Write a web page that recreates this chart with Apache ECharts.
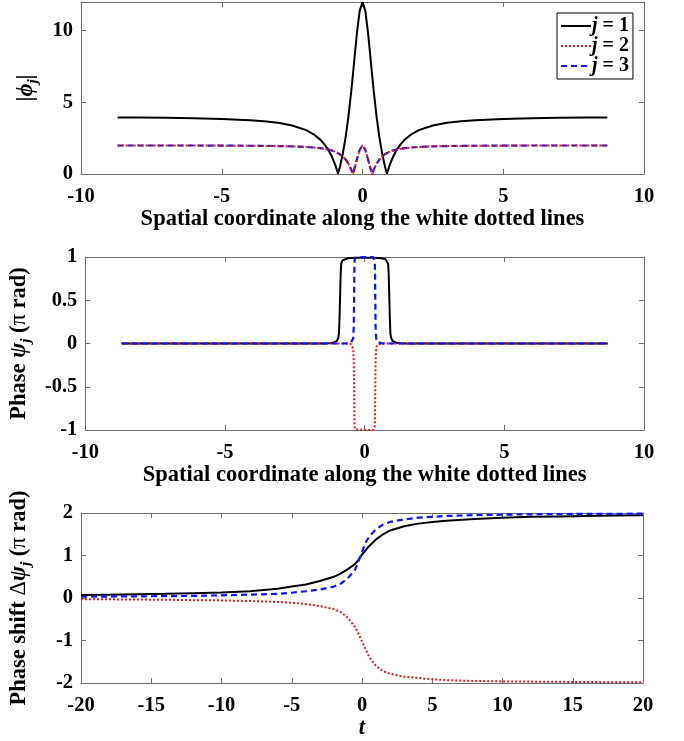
<!DOCTYPE html>
<html>
<head>
<meta charset="utf-8">
<script src="https://cdn.jsdelivr.net/npm/echarts@6/dist/echarts.min.js"></script>
<style>
  html, body { margin: 0; padding: 0; background: #fff; }
  #chart { width: 684px; height: 741px; }
</style>
</head>
<body>
<div id="chart"></div>
<script>
// ---- Panel 1: amplitude |phi_j| along the spatial coordinate ----
const ampX = [-8.7, -8, -7, -6, -5, -4, -3.5, -3, -2.5, -2, -1.75, -1.5, -1.35, -1.2, -1.1, -1, -0.95, -0.87, -0.8, -0.7, -0.6, -0.5, -0.4, -0.34, -0.3, -0.2, -0.1,
  0,
  0.1, 0.2, 0.3, 0.34, 0.4, 0.5, 0.6, 0.7, 0.8, 0.87, 0.95, 1, 1.1, 1.2, 1.35, 1.5, 1.75, 2, 2.5, 3, 3.5, 4, 5, 6, 7, 8, 8.7];
const ampJ1 = [3.95, 3.94, 3.92, 3.89, 3.84, 3.75, 3.68, 3.57, 3.38, 3.06, 2.79, 2.4, 2.07, 1.63, 1.26, 0.8, 0.53, 0.02, 0.5, 1.41, 2.56, 4, 5.76, 6.94, 7.76, 9.79, 11.38,
  12,
  11.38, 9.79, 7.76, 6.94, 5.76, 4, 2.56, 1.41, 0.5, 0.02, 0.53, 0.8, 1.26, 1.63, 2.07, 2.4, 2.79, 3.06, 3.38, 3.57, 3.68, 3.75, 3.84, 3.89, 3.92, 3.94, 3.95];
const ampJ2 = [1.99, 1.99, 1.99, 1.99, 1.98, 1.97, 1.96, 1.95, 1.93, 1.89, 1.85, 1.8, 1.76, 1.7, 1.65, 1.58, 1.54, 1.46, 1.38, 1.23, 1.01, 0.72, 0.31, 0, 0.27, 0.99, 1.69,
  2,
  1.69, 0.99, 0.27, 0, 0.31, 0.72, 1.01, 1.23, 1.38, 1.46, 1.54, 1.58, 1.65, 1.7, 1.76, 1.8, 1.85, 1.89, 1.93, 1.95, 1.96, 1.97, 1.98, 1.99, 1.99, 1.99, 1.99];
const ampJ3 = [1.99, 1.99, 1.99, 1.99, 1.98, 1.97, 1.96, 1.95, 1.93, 1.89, 1.85, 1.8, 1.76, 1.7, 1.65, 1.58, 1.54, 1.46, 1.38, 1.23, 1.01, 0.72, 0.31, 0, 0.27, 0.99, 1.69,
  2,
  1.69, 0.99, 0.27, 0, 0.31, 0.72, 1.01, 1.23, 1.38, 1.46, 1.54, 1.58, 1.65, 1.7, 1.76, 1.8, 1.85, 1.89, 1.93, 1.95, 1.96, 1.97, 1.98, 1.99, 1.99, 1.99, 1.99];

// ---- Panel 2: phase psi_j (in units of pi) ----
const phaseX1 = [-8.7, -4, -2, -1.5, -1.3, -1.2, -1.1, -1.0, -0.95, -0.92, -0.9, -0.88, -0.86, -0.84, -0.8, -0.75, -0.6, -0.3,
  0,
  0.3, 0.6, 0.75, 0.8, 0.84, 0.86, 0.88, 0.9, 0.92, 0.95, 1.0, 1.1, 1.2, 1.3, 1.5, 2, 4, 8.7];
const phaseJ1 = [0, 0, 0, 0.001, 0.003, 0.006, 0.012, 0.03, 0.06, 0.12, 0.3, 0.55, 0.8, 0.92, 0.96, 0.975, 0.985, 0.99,
  0.99,
  0.99, 0.985, 0.975, 0.96, 0.92, 0.8, 0.55, 0.3, 0.12, 0.06, 0.03, 0.012, 0.006, 0.003, 0.001, 0, 0, 0];
const phaseX23 = [-8.7, -2, -0.8, -0.6, -0.5, -0.44, -0.41, -0.39, -0.38, -0.37, -0.36, -0.34, -0.3,
  0,
  0.3, 0.34, 0.36, 0.37, 0.38, 0.39, 0.41, 0.44, 0.5, 0.6, 0.8, 2, 8.7];
const phaseJ2 = [0, 0, 0, -0.002, -0.005, -0.02, -0.06, -0.2, -0.5, -0.85, -0.96, -0.99, -1,
  -1,
  -1, -0.99, -0.96, -0.85, -0.5, -0.2, -0.06, -0.02, -0.005, -0.002, 0, 0, 0];
const phaseJ3 = [0, 0, 0, 0.002, 0.005, 0.02, 0.06, 0.2, 0.5, 0.85, 0.96, 0.99, 1,
  1,
  1, 0.99, 0.96, 0.85, 0.5, 0.2, 0.06, 0.02, 0.005, 0.002, 0, 0, 0];

// ---- Panel 3: phase shift Delta psi_j versus t ----
const shiftT = [-20, -18, -16, -14, -12, -10, -8, -6, -5, -4, -3, -2, -1.5, -1, -0.5, -0.25, 0, 0.25, 0.5, 1, 1.5, 2, 3, 4, 5, 6, 8, 10, 12, 14, 16, 18, 20];
const shiftJ1 = [0.07, 0.08, 0.09, 0.1, 0.115, 0.13, 0.16, 0.22, 0.27, 0.32, 0.4, 0.5, 0.58, 0.68, 0.8, 0.9, 1.02, 1.12, 1.22, 1.38, 1.5, 1.59, 1.69, 1.75, 1.79, 1.82, 1.86, 1.89, 1.91, 1.92, 1.93, 1.94, 1.95];
const shiftJ2 = [-0.025, -0.03, -0.035, -0.04, -0.05, -0.055, -0.07, -0.09, -0.11, -0.14, -0.19, -0.26, -0.33, -0.47, -0.68, -0.84, -1.02, -1.2, -1.38, -1.6, -1.72, -1.78, -1.85, -1.88, -1.91, -1.93, -1.95, -1.96, -1.965, -1.97, -1.975, -1.98, -1.98];
const shiftJ3 = [0.03, 0.035, 0.04, 0.045, 0.05, 0.065, 0.08, 0.1, 0.125, 0.16, 0.2, 0.27, 0.34, 0.47, 0.66, 0.86, 1.08, 1.3, 1.44, 1.62, 1.73, 1.79, 1.85, 1.89, 1.91, 1.93, 1.95, 1.96, 1.97, 1.975, 1.98, 1.98, 1.985];

const seriesNames = ['j = 1', 'j = 2', 'j = 3'];

// ---- styling ----
const FONT = '"Liberation Serif", "Times New Roman", serif';
const AXIS_COLOR = '#6e6e6e';
const LINE = [
  { color: '#000000', type: 'solid', width: 2 },
  { color: '#e81818', type: [2, 2], width: 2 },
  { color: '#0a14ff', type: [6, 4], width: 2.2 }
];

const NAME_SIZE = 22.5;
const nameRich = {
  b: { fontFamily: FONT, fontWeight: 'bold', fontSize: NAME_SIZE, color: '#000' },
  i: { fontFamily: FONT, fontWeight: 'bold', fontStyle: 'italic', fontSize: NAME_SIZE, color: '#000' },
  g: { fontFamily: FONT, fontWeight: 'normal', fontSize: NAME_SIZE, color: '#000' },
  s: { fontFamily: FONT, fontWeight: 'bold', fontStyle: 'italic', fontSize: 15, color: '#000', padding: [14, 0, 0, 0] }
};

const tickLabel = { color: '#000', fontFamily: FONT, fontWeight: 'bold', fontSize: 20.5 };

function pairs(xs, ys) { return xs.map((x, k) => [x, ys[k]]); }

// Box-style axes: labelled bottom/left, mirrored tick-only top/right
function xAxes(grid, min, max, interval, name, nameGap) {
  const base = {
    gridIndex: grid, type: 'value', min, max, interval,
    axisLine: { show: true, onZero: false, lineStyle: { color: AXIS_COLOR, width: 1 } },
    axisTick: { show: true, inside: true, length: 5, lineStyle: { color: AXIS_COLOR } },
    splitLine: { show: false }
  };
  return [
    Object.assign({}, base, {
      position: 'bottom',
      axisLabel: Object.assign({ margin: 12 }, tickLabel),
      name, nameLocation: 'middle', nameGap,
      nameTextStyle: { rich: nameRich }
    }),
    Object.assign({}, base, { position: 'top', axisLabel: { show: false } })
  ];
}
function yAxes(grid, min, max, interval, name, nameGap, extraLabel) {
  const base = {
    gridIndex: grid, type: 'value', min, max, interval,
    axisLine: { show: true, onZero: false, lineStyle: { color: AXIS_COLOR, width: 1 } },
    axisTick: { show: true, inside: true, length: 5, lineStyle: { color: AXIS_COLOR } },
    splitLine: { show: false }
  };
  return [
    Object.assign({}, base, {
      position: 'left',
      axisLabel: Object.assign({ margin: 8 }, tickLabel, extraLabel || {}),
      name, nameLocation: 'middle', nameGap, nameRotate: 90,
      nameTextStyle: { rich: nameRich }
    }),
    Object.assign({}, base, { position: 'right', axisLabel: { show: false } })
  ];
}

const spatialName = '{b|Spatial coordinate along the white dotted lines}';

const option = {
  animation: false,
  backgroundColor: '#fff',
  grid: [
    { left: 81, top: 2, width: 563, height: 172 },
    { left: 81, top: 257, width: 563, height: 173 },
    { left: 81, top: 513, width: 562, height: 173 }
  ],
  xAxis: [
    ...xAxes(0, -10, 10, 5, spatialName, 34),
    ...xAxes(1, -10, 10, 5, spatialName, 33),
    ...xAxes(2, -20, 20, 5, '{i|t}', 31)
  ],
  yAxis: [
    ...yAxes(0, 0, 12, 5, '{b||}{i|ϕ}{s|j}{b||}', 40, { showMaxLabel: false }),
    ...yAxes(1, -1, 1, 0.5, '{b|Phase }{i|ψ}{s|j}{b| (}{g|π}{b| rad)}', 51),
    ...yAxes(2, -2, 2, 1, '{b|Phase shift }{g|Δ}{i|ψ}{s|j}{b| (}{g|π}{b| rad)}', 47)
  ],
  legend: {
    data: seriesNames,
    orient: 'vertical',
    left: 557, top: 13,
    itemWidth: 30, itemHeight: 10, itemGap: 0,
    padding: [3, 4, 3, 3],
    borderColor: '#000', borderWidth: 1, backgroundColor: '#fff',
    selectedMode: false,
    itemStyle: { opacity: 0 },
    formatter: name => '{j|j}{v| = ' + name.slice(4) + '}',
    textStyle: {
      padding: [0, 0, 0, -4],
      rich: {
        j: { fontFamily: FONT, fontWeight: 'bold', fontStyle: 'italic', fontSize: 20, lineHeight: 20, color: '#000' },
        v: { fontFamily: FONT, fontWeight: 'bold', fontSize: 20, lineHeight: 20, color: '#000' }
      }
    }
  },
  series: [
    // panel 1
    { name: seriesNames[0], type: 'line', xAxisIndex: 0, yAxisIndex: 0, data: pairs(ampX, ampJ1) },
    { name: seriesNames[2], type: 'line', xAxisIndex: 0, yAxisIndex: 0, data: pairs(ampX, ampJ3) },
    { name: seriesNames[1], type: 'line', xAxisIndex: 0, yAxisIndex: 0, data: pairs(ampX, ampJ2) },
    // panel 2
    { name: seriesNames[0], type: 'line', xAxisIndex: 2, yAxisIndex: 2, data: pairs(phaseX1, phaseJ1) },
    { name: seriesNames[1], type: 'line', xAxisIndex: 2, yAxisIndex: 2, data: pairs(phaseX23, phaseJ2) },
    { name: seriesNames[2], type: 'line', xAxisIndex: 2, yAxisIndex: 2, data: pairs(phaseX23, phaseJ3) },
    // panel 3
    { name: seriesNames[0], type: 'line', xAxisIndex: 4, yAxisIndex: 4, data: pairs(shiftT, shiftJ1) },
    { name: seriesNames[1], type: 'line', xAxisIndex: 4, yAxisIndex: 4, data: pairs(shiftT, shiftJ2) },
    { name: seriesNames[2], type: 'line', xAxisIndex: 4, yAxisIndex: 4, data: pairs(shiftT, shiftJ3) }
  ].map(s => {
    const k = seriesNames.indexOf(s.name);
    return Object.assign(s, {
      symbol: 'none',
      smooth: false,
      clip: false,
      lineStyle: Object.assign({}, LINE[k]),
      itemStyle: { color: LINE[k].color },
      emphasis: { disabled: true }
    });
  })
};

const chart = echarts.init(document.getElementById('chart'), null, { renderer: 'canvas' });
chart.setOption(option);
</script>
</body>
</html>
